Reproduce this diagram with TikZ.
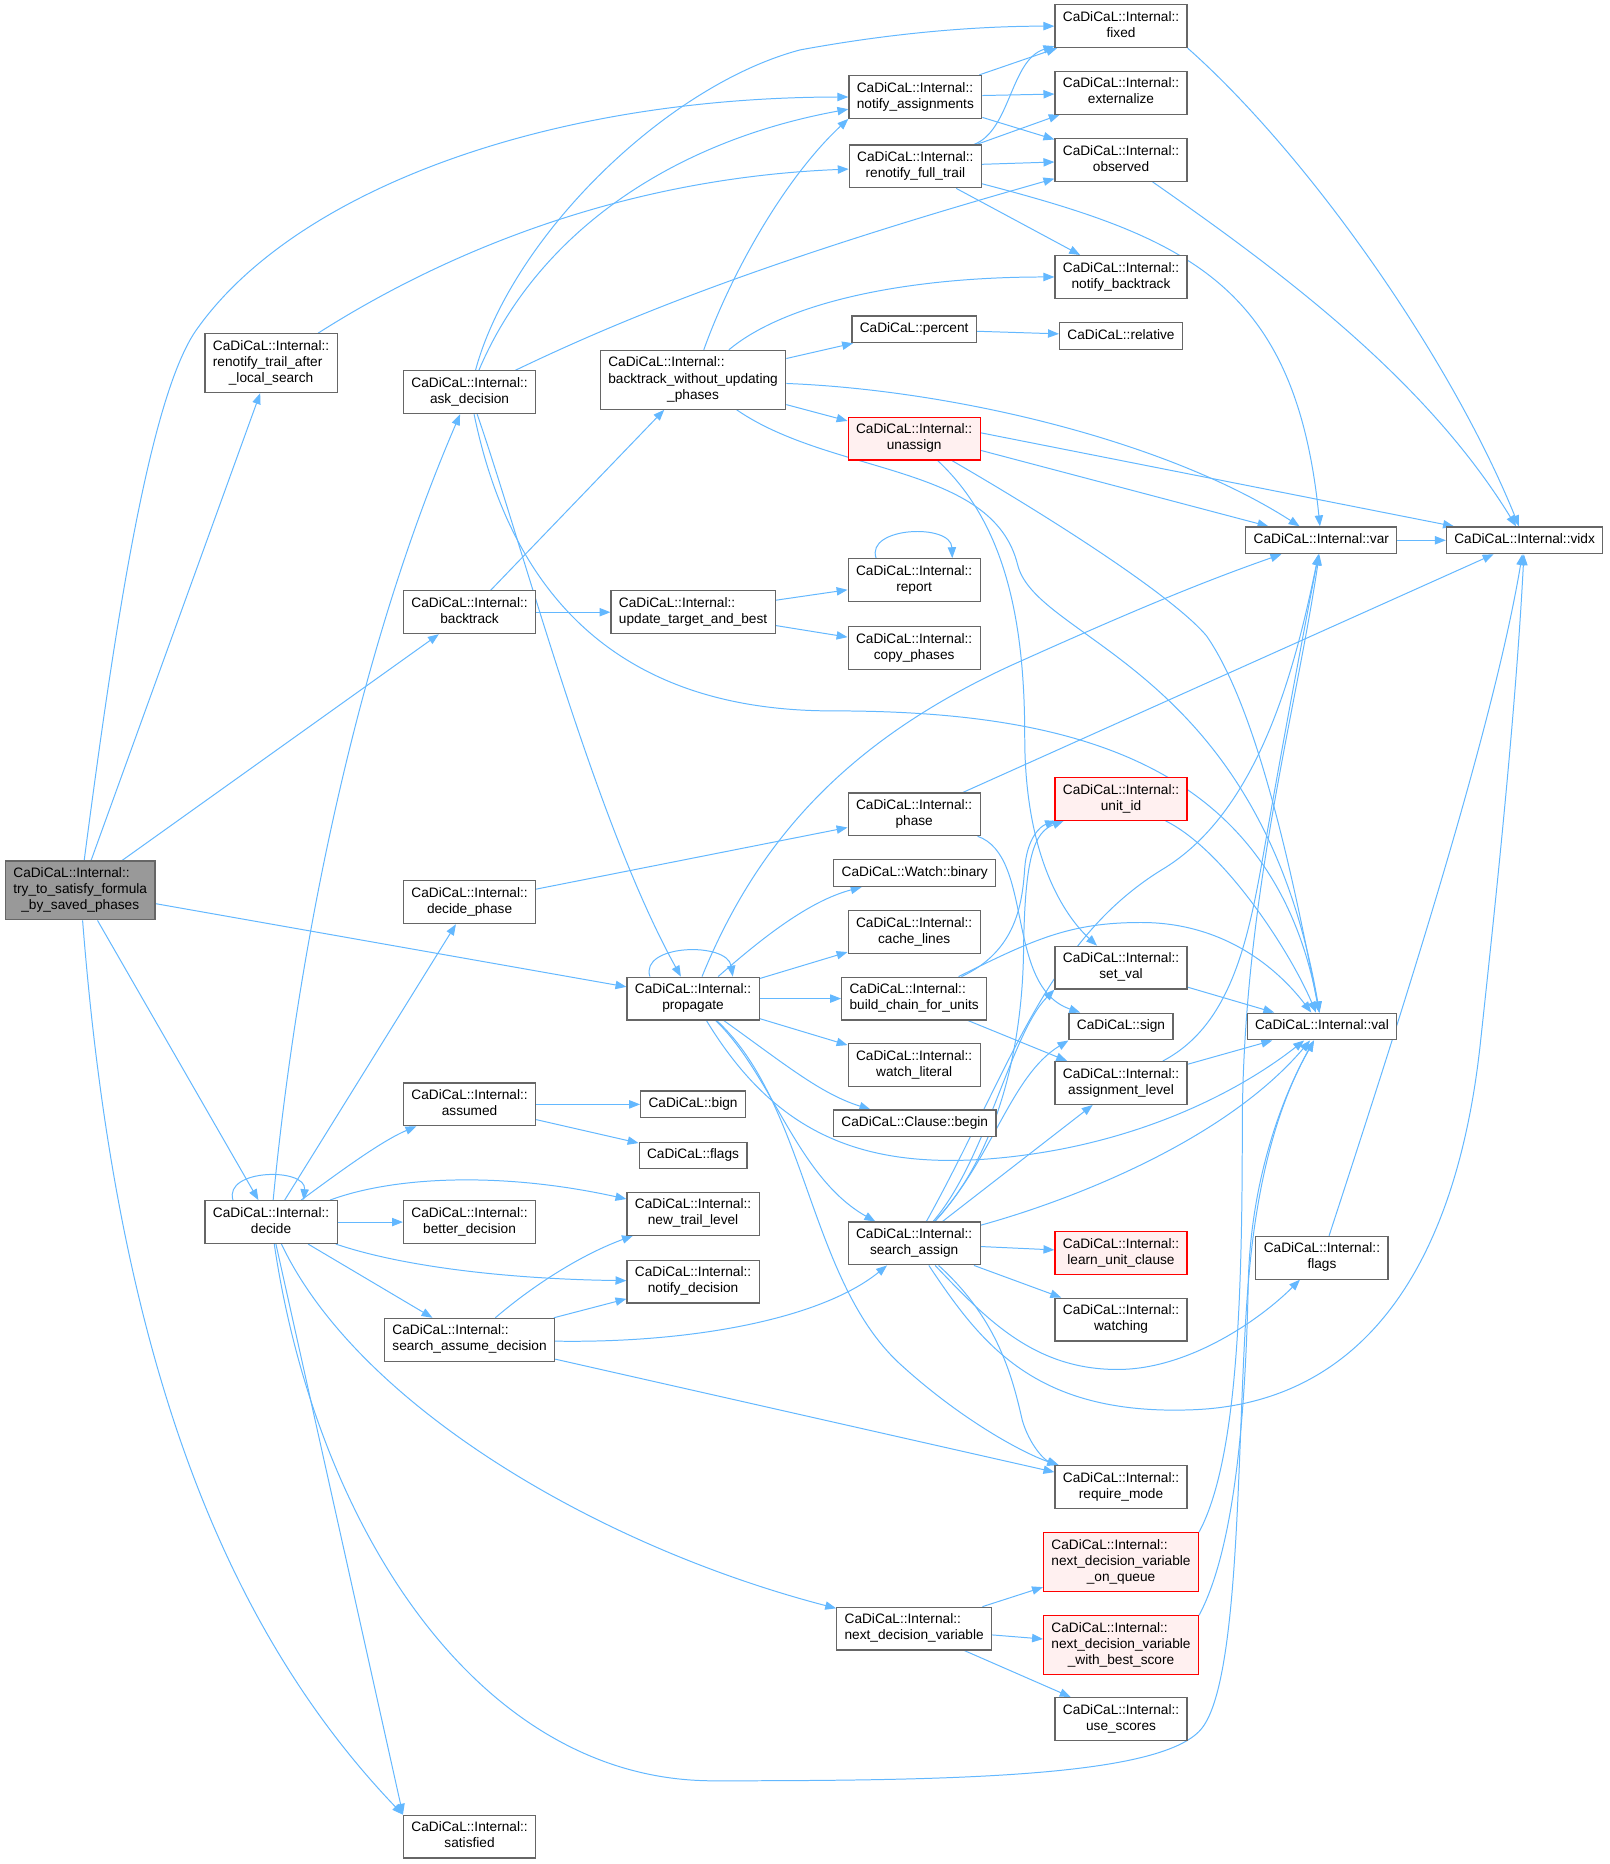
\documentclass[tikz,border=0pt]{standalone}
\usepackage{fontspec}
\usepackage{tikz}
\usetikzlibrary{arrows.meta}
\newfontfamily\dxfont{Liberation Sans}
\definecolor{dxgray}{HTML}{666666}
\definecolor{dxroot}{HTML}{999999}
\definecolor{dxpink}{HTML}{FFF0F0}
\definecolor{dxedge}{HTML}{63B8FF}
\pgfdeclarelayer{background}
\pgfsetlayers{background,main}
\newcommand{\fnone}[1]{\begin{tabular}{@{}c@{}}#1\end{tabular}}
\newcommand{\fntwo}[2]{\begin{tabular}{@{}l@{}}#1\\\multicolumn{1}{@{}c@{}}{#2}\end{tabular}}
\newcommand{\fnthree}[3]{\begin{tabular}{@{}l@{}}#1\\#2\\\multicolumn{1}{@{}c@{}}{#3}\end{tabular}}
\newcommand{\fnint}[1]{\fntwo{CaDiCaL::Internal::}{#1}}
\tikzset{
  fn/.style={draw=dxgray, fill=white, line width=0.6pt, inner xsep=4pt, inner ysep=2.7pt,
    font=\dxfont\fontsize{6.9}{8.1}\selectfont},
  fnred/.style={fn, draw=red, fill=dxpink},
  fnroot/.style={fn, fill=dxroot},
  call/.style={draw=dxedge, line width=0.5pt, -{Triangle[length=5.5pt,width=4.2pt]}}
}
\begin{document}
\begin{tikzpicture}[x=0.6pt, y=-0.6pt]
\useasboundingbox (0,0) rectangle (1354,1568);
% functions
\node[fnroot] (trySat) at (67.5,749) {\fnthree{CaDiCaL::Internal::}{try\_to\_satisfy\_formula}{\_by\_saved\_phases}};
\node[fn] (renotifyLS) at (228,305.5) {\fnthree{CaDiCaL::Internal::}{renotify\_trail\_after}{\_local\_search}};
\node[fn] (askDec) at (395,330) {\fnint{ask\_decision}};
\node[fn] (backtrack) at (395,515) {\fnint{backtrack}};
\node[fn] (decPhase) at (395,759) {\fnint{decide\_phase}};
\node[fn] (assumed) at (395,929) {\fnint{assumed}};
\node[fn] (decide) at (228,1028) {\fnint{decide}};
\node[fn] (betterDec) at (395,1028) {\fnint{better\_decision}};
\node[fn] (searchAssume) at (395,1127) {\fnint{search\_assume\_decision}};
\node[fn] (satisfied) at (395,1545) {\fnint{satisfied}};
\node[fn] (backtrackWup) at (583,319.5) {\fnthree{CaDiCaL::Internal::}{backtrack\_without\_updating}{\_phases}};
\node[fn] (updTarget) at (583,515) {\fnint{update\_target\_and\_best}};
\node[fn] (propagate) at (583,840) {\fnint{propagate}};
\node[fn] (bign) at (583,929) {\fnone{CaDiCaL::bign}};
\node[fn] (cflags) at (583,972) {\fnone{CaDiCaL::flags}};
\node[fn] (newTrail) at (583,1021) {\fnint{new\_trail\_level}};
\node[fn] (notifyDec) at (583,1078) {\fnint{notify\_decision}};
\node[fn] (notifyAsg) at (770,81.5) {\fnint{notify\_assignments}};
\node[fn] (renotifyFull) at (770,140) {\fnint{renotify\_full\_trail}};
\node[fn] (percent) at (769,277) {\fnone{CaDiCaL::percent}};
\node[fnred] (unassign) at (769,369) {\fnint{unassign}};
\node[fn] (report) at (769,488) {\fnint{report}};
\node[fn] (copyPhases) at (769,545) {\fnint{copy\_phases}};
\node[fn] (phase) at (769,685) {\fnint{phase}};
\node[fn] (binary) at (769.5,734.5) {\fnone{CaDiCaL::Watch::binary}};
\node[fn] (cacheLines) at (769,784) {\fnint{cache\_lines}};
\node[fn] (buildChain) at (769,840) {\fnint{build\_chain\_for\_units}};
\node[fn] (watchLit) at (769,896) {\fnint{watch\_literal}};
\node[fn] (clauseBegin) at (769.5,945) {\fnone{CaDiCaL::Clause::begin}};
\node[fn] (searchAssign) at (769,1046) {\fnint{search\_assign}};
\node[fn] (nextDec) at (769,1370) {\fnint{next\_decision\_variable}};
\node[fn] (fixed) at (943,22) {\fnint{fixed}};
\node[fn] (externalize) at (943,78) {\fnint{externalize}};
\node[fn] (observed) at (943,134.5) {\fnint{observed}};
\node[fn] (notifyBt) at (943,233) {\fnint{notify\_backtrack}};
\node[fn] (relative) at (943,282.5) {\fnone{CaDiCaL::relative}};
\node[fnred] (unitId) at (943,672) {\fnint{unit\_id}};
\node[fn] (setVal) at (943,814) {\fnint{set\_val}};
\node[fn] (sign) at (943,863.5) {\fnone{CaDiCaL::sign}};
\node[fn] (asgLevel) at (943,911) {\fnint{assignment\_level}};
\node[fnred] (learnUnit) at (943,1054) {\fnint{learn\_unit\_clause}};
\node[fn] (watching) at (943,1110) {\fnint{watching}};
\node[fn] (requireMode) at (943,1251) {\fnint{require\_mode}};
\node[fnred] (nextQueue) at (943,1314) {\fnthree{CaDiCaL::Internal::}{next\_decision\_variable}{\_on\_queue}};
\node[fnred] (nextBest) at (943,1384) {\fnthree{CaDiCaL::Internal::}{next\_decision\_variable}{\_with\_best\_score}};
\node[fn] (useScores) at (943,1446) {\fnint{use\_scores}};
\node[fn] (var) at (1111.5,454.5) {\fnone{CaDiCaL::Internal::var}};
\node[fn] (val) at (1112,863.5) {\fnone{CaDiCaL::Internal::val}};
\node[fn] (iflags) at (1112,1058) {\fnint{flags}};
\node[fn] (vidx) at (1282.5,454.5) {\fnone{CaDiCaL::Internal::vidx}};

\begin{pgfonlayer}{background}
\fill[white] (0,0) rectangle (1354,1568);
% root
\draw[call] (trySat) .. controls (95,540) and (125,330) .. (167,275) .. controls (250,160) and (460,82) .. (notifyAsg);
\draw[call] (trySat) -- (renotifyLS);
\draw[call] (trySat) -- (backtrack);
\draw[call] (trySat) -- (propagate);
\draw[call] (trySat) -- (decide);
\draw[call] (trySat) .. controls (95,1100) and (170,1350) .. (satisfied.north west);
\draw[call] (renotifyLS) .. controls (370,215) and (520,150) .. (renotifyFull);
% ask_decision
\draw[call] (askDec) .. controls (430,200) and (560,72) .. (673,42) .. controls (760,26) and (830,22) .. (fixed);
\draw[call] (askDec) .. controls (450,200) and (560,120) .. (notifyAsg);
\draw[call] (askDec) .. controls (520,270) and (640,220) .. (observed);
\draw[call] (askDec) .. controls (440,460) and (500,690) .. (propagate);
\draw[call] (askDec) .. controls (430,500) and (520,598) .. (700,598) .. controls (900,598) and (1070,640) .. (val);
% backtrack
\draw[call] (backtrack) -- (backtrackWup);
\draw[call] (backtrack) -- (updTarget);
\draw[call] (updTarget) -- (report);
\draw[call] (updTarget) -- (copyPhases);
\draw[call] (report.150) .. controls (728,443) and (800,440) .. (report.30);
\draw[call] (backtrackWup) .. controls (615,230) and (660,150) .. (notifyAsg.south west);
\draw[call] (backtrackWup) .. controls (660,255) and (760,233) .. (notifyBt);
\draw[call] (backtrackWup) -- (percent);
\draw[call] (backtrackWup) -- (unassign);
\draw[call] (backtrackWup) .. controls (800,328) and (980,370) .. (var);
\draw[call] (backtrackWup) .. controls (700,400) and (835,390) .. (856,475) .. controls (872,540) and (1060,560) .. (val);
% notify
\draw[call] (notifyAsg) -- (fixed);
\draw[call] (notifyAsg) -- (externalize);
\draw[call] (notifyAsg) -- (observed);
\draw[call] (renotifyFull) .. controls (850,110) and (850,50) .. (fixed);
\draw[call] (renotifyFull) -- (externalize);
\draw[call] (renotifyFull) -- (observed);
\draw[call] (renotifyFull) -- (notifyBt);
\draw[call] (renotifyFull) .. controls (1000,200) and (1090,240) .. (var);
\draw[call] (fixed.south east) .. controls (1100,130) and (1220,300) .. (vidx);
\draw[call] (observed) .. controls (1080,230) and (1200,320) .. (vidx);
\draw[call] (var) -- (vidx);
\draw[call] (percent) -- (relative);
% unassign
\draw[call] (unassign.5) -- (vidx);
\draw[call] (unassign.-10) -- (var);
\draw[call] (unassign) .. controls (900,445) and (990,505) .. (1015,535) .. controls (1060,600) and (1090,750) .. (val);
\draw[call] (unassign) .. controls (845,440) and (862,520) .. (862,620) .. controls (862,720) and (895,770) .. (setVal);
% phase
\draw[call] (decPhase) -- (phase);
\draw[call] (phase) -- (vidx);
\draw[call] (phase) .. controls (870,720) and (845,830) .. (sign);
% propagate
\draw[call] (propagate.153) .. controls (538,794) and (612,792) .. (propagate.29);
\draw[call] (propagate) .. controls (640,700) and (720,620) .. (850,560) .. controls (950,515) and (1010,490) .. (var);
\draw[call] (propagate) .. controls (640,790) and (680,758) .. (binary);
\draw[call] (propagate) -- (cacheLines);
\draw[call] (propagate) -- (buildChain);
\draw[call] (propagate) -- (watchLit);
\draw[call] (propagate) .. controls (660,895) and (690,920) .. (clauseBegin);
\draw[call] (propagate) .. controls (650,905) and (670,990) .. (searchAssign);
\draw[call] (propagate) .. controls (650,950) and (720,983) .. (830,975) .. controls (950,966) and (1040,920) .. (val);
\draw[call] (propagate) .. controls (680,930) and (680,1080) .. (760,1150) .. controls (810,1195) and (860,1222) .. (requireMode);
% build_chain_for_units
\draw[call] (buildChain) .. controls (855,800) and (860,760) .. (862,730) .. controls (864,705) and (875,695) .. (unitId);
\draw[call] (buildChain) .. controls (870,790) and (900,776) .. (960,776) .. controls (1030,776) and (1075,815) .. (val);
\draw[call] (buildChain) -- (asgLevel);
\draw[call] (unitId) .. controls (1030,715) and (1085,800) .. (val);
\draw[call] (setVal) -- (val);
\draw[call] (asgLevel) -- (val);
\draw[call] (asgLevel) .. controls (1040,860) and (1052,780) .. (1066,700) .. controls (1080,620) and (1095,540) .. (var);
% search_assign
\draw[call] (searchAssign) .. controls (840,970) and (860,880) .. (861,800) .. controls (862,720) and (870,700) .. (unitId);
\draw[call] (searchAssign) .. controls (830,975) and (850,870) .. (setVal.south west);
\draw[call] (searchAssign) .. controls (835,975) and (850,905) .. (sign.south west);
\draw[call] (searchAssign) -- (asgLevel);
\draw[call] (searchAssign) .. controls (850,900) and (880,790) .. (980,730) .. controls (1060,680) and (1090,560) .. (var);
\draw[call] (searchAssign) .. controls (900,1010) and (1030,960) .. (val);
\draw[call] (searchAssign) -- (learnUnit);
\draw[call] (searchAssign) -- (watching);
\draw[call] (searchAssign) .. controls (830,1110) and (870,1152) .. (940,1152) .. controls (1000,1152) and (1060,1110) .. (iflags);
\draw[call] (searchAssign) .. controls (825,1130) and (870,1190) .. (1000,1186) .. controls (1150,1182) and (1225,1060) .. (1245,880) .. controls (1258,760) and (1275,600) .. (vidx);
\draw[call] (searchAssign) .. controls (840,1110) and (852,1160) .. (860,1195) .. controls (866,1215) and (878,1228) .. (requireMode);
\draw[call] (iflags) .. controls (1170,880) and (1255,620) .. (vidx);
% decide
\draw[call] (decide.150) .. controls (188,983) and (258,982) .. (decide.34);
\draw[call] (decide) .. controls (250,800) and (300,550) .. (askDec);
\draw[call] (decide) -- (decPhase);
\draw[call] (decide) .. controls (280,990) and (320,960) .. (assumed);
\draw[call] (decide) -- (betterDec);
\draw[call] (decide) .. controls (330,990) and (420,985) .. (newTrail);
\draw[call] (decide) .. controls (340,1066) and (430,1076) .. (notifyDec);
\draw[call] (decide) -- (searchAssume);
\draw[call] (decide) .. controls (300,1180) and (500,1300) .. (nextDec);
\draw[call] (decide) -- (satisfied.north west);
\draw[call] (decide) .. controls (265,1280) and (400,1498) .. (600,1498) .. controls (800,1498) and (975,1495) .. (1010,1455) .. controls (1045,1415) and (1040,1200) .. (1050,1080) .. controls (1058,980) and (1080,920) .. (val);
\draw[call] (assumed) -- (bign);
\draw[call] (assumed) -- (cflags);
% search_assume_decision
\draw[call] (searchAssume) .. controls (450,1080) and (490,1055) .. (newTrail);
\draw[call] (searchAssume) -- (notifyDec);
\draw[call] (searchAssume) .. controls (580,1130) and (690,1110) .. (searchAssign);
\draw[call] (searchAssume) -- (requireMode);
% next_decision_variable
\draw[call] (nextDec) -- (nextQueue);
\draw[call] (nextDec) -- (nextBest);
\draw[call] (nextDec) -- (useScores);
\draw[call] (nextQueue.north east) .. controls (1040,1230) and (1045,1100) .. (1045,950) .. controls (1045,760) and (1090,600) .. (var);
\draw[call] (nextBest.north east) .. controls (1040,1300) and (1048,1180) .. (1050,1080) .. controls (1052,990) and (1080,920) .. (val);
\end{pgfonlayer}
\end{tikzpicture}
\end{document}
